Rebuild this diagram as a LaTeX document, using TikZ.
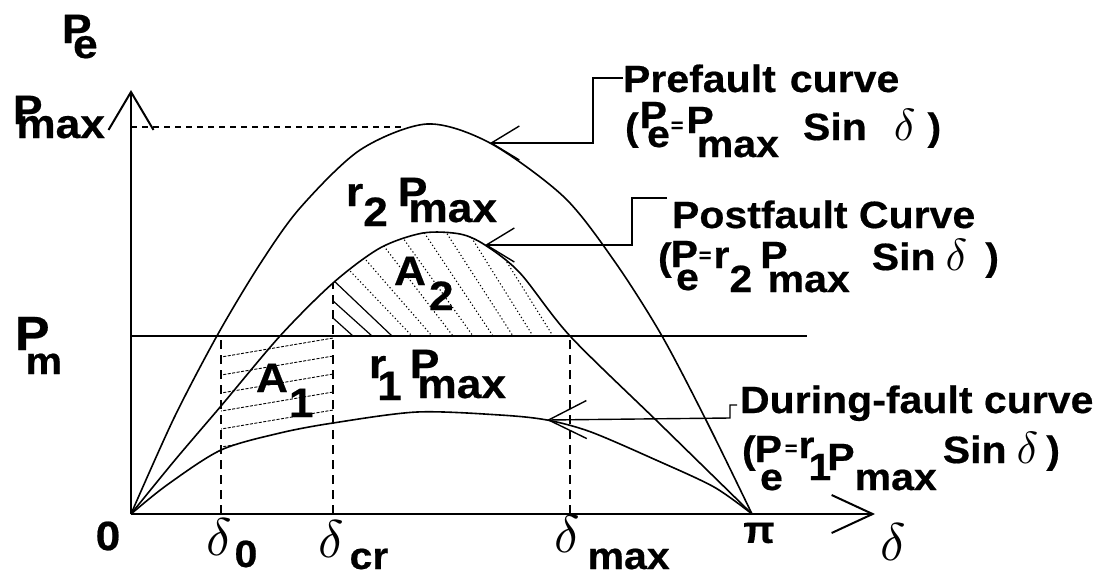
\documentclass[tikz,border=0pt]{standalone}
\usepackage{fontspec}
\setmainfont{Liberation Sans}[FakeStretch=1.08, BoldFeatures={FakeBold=0.5}]
\usetikzlibrary{arrows.meta}
\newcommand{\lo}[2]{\raisebox{-#1}{#2}}
\newcommand{\up}[2]{\raisebox{#1}{#2}}
\newcommand{\Psb}[3]{P\kern#1\raisebox{-#2}{#3}}
\newcommand{\dl}[1][5.3]{\scalebox{#1}{\fontsize{10}{12}\selectfont$\delta$}}
\newcommand{\eqs}{\raisebox{8pt}{\fontsize{20}{20}\selectfont =}}
\begin{document}
\begin{tikzpicture}[x=1pt,y=-1pt,
  every node/.style={inner sep=0pt, outer sep=0pt, font=\bfseries\fontsize{38}{40}\selectfont},
  small/.style={font=\bfseries\fontsize{38}{40}\selectfont},
  big/.style={font=\bfseries\fontsize{41}{44}\selectfont},
  axis/.style={line width=2pt},
  curve/.style={line width=1.6pt, line join=round},
  guide/.style={line width=1.8pt, dash pattern=on 9pt off 6pt},
  pmaxline/.style={line width=1.2pt, dash pattern=on 6pt off 5pt},
  leader/.style={line width=1.4pt},
  hatchA/.style={line width=0.9pt, dash pattern=on 3pt off 1.5pt},
  hatchS/.style={line width=1.2pt},
  hatchD/.style={line width=1.1pt, dash pattern=on 1.2pt off 2.4pt},
  barb/.style={-{Straight Barb[length=28pt,width=34pt]}},
]
\useasboundingbox (0,0) rectangle (1110,576);

% axes
\coordinate (O) at (131,514);
\coordinate (Ytop) at (131,90);
\coordinate (Xend) at (875,514);
\draw[axis, -{Straight Barb[length=38pt,width=45pt]}] (O) -- (Ytop);
\draw[axis, -{Straight Barb[length=41pt,width=38pt]}] (O) -- (Xend);

% Pm line and Pmax dashed line
\coordinate (PmL) at (131,336);
\coordinate (PmR) at (807,336);
\draw[curve] (PmL) -- (PmR);
\coordinate (PxL) at (131,127);
\coordinate (PxR) at (405,127);
\draw[pmaxline] (PxL) -- (PxR);

% hatching A1
\begin{scope}
  \clip (221,336) rectangle (333,514);
  \clip plot[smooth] coordinates {(131,514) (167,485) (221,450) (280,433) (333,423) (417,412) (500,415) (547,420) (591,432) (656,460) (714,487) (752,514)} -- (752,0) -- (131,0) -- cycle;
  \foreach \y in {357,375,393,411,429,447}
    \draw[hatchA] (210,\y+1.9) -- (345,\y-21);
\end{scope}

% hatching A2
\begin{scope}
  \clip (333,0) rectangle (572,336);
  \clip plot[smooth] coordinates {(131,514) (175,460) (221,406) (280,336) (333,283) (380,248) (423,233) (460,234) (485,245) (520,273) (570,336) (660,424) (752,514)} -- cycle;
  \foreach \b/\s in {353/0.9,372/0.9,392/0.95}
    \draw[hatchS] (\b-170/\s,166) -- (\b+10/\s,346);
  \foreach \b/\s in {412/1.05,432/1.15,453/1.3,473/1.4,493/1.5,513/1.55,533/1.6,553/1.6}
    \draw[hatchD] (\b-190/\s,146) -- (\b+10/\s,346);
\end{scope}

% guides
\coordinate (d0b) at (221,514); \coordinate (d0t) at (221,336);
\coordinate (dcb) at (333,514); \coordinate (dct) at (333,283);
\coordinate (dmb) at (570,514); \coordinate (dmt) at (570,336);
\draw[guide] (d0b) -- (d0t);
\draw[guide] (dcb) -- (dct);
\draw[guide] (dmb) -- (dmt);

% curves
\draw[curve] plot[smooth] coordinates {(131,514) (174,418) (218,334) (260,264) (300,208) (360,150) (427,124) (490,143) (564,197) (615,262) (662,336) (708,424) (752,514)};
\draw[curve] plot[smooth] coordinates {(131,514) (175,460) (221,406) (280,336) (333,283) (380,248) (423,233) (460,234) (485,245) (520,273) (570,336) (660,424) (752,514)};
\draw[curve] plot[smooth] coordinates {(131,514) (167,485) (221,450) (280,433) (333,423) (417,412) (500,415) (547,420) (591,432) (656,460) (714,487) (752,514)};

% callout texts
\node[anchor=base west] (pre1) at (623,92) {Prefault\hspace{14pt}curve};
\node[anchor=base west, small] (pre2) at (625,140) {(\kern1pt\up{12pt}{P}\kern-20pt\lo{7pt}{e}\kern1pt\eqs\kern3pt\up{7pt}{P}\kern-17pt\lo{17pt}{max}\kern24pt Sin\kern27pt\dl[4.5]\kern12pt)};
\node[anchor=base west] (post1) at (672,228) {Postfault Curve};
\node[anchor=base west, small] (post2) at (658,270) {(\kern-1pt\up{3pt}{P}\kern-22pt\lo{20pt}{e}\eqs\kern2pt\up{2pt}{r}\lo{22pt}{2}\kern8pt\up{2pt}{P}\kern-20pt\lo{22pt}{max}\kern22pt Sin\kern10pt\dl[4.5]\kern18pt)};
\node[anchor=base west] (dur1) at (740,413) {During-fault curve};
\node[anchor=base west, small] (dur2) at (742,463) {(\kern-1pt\up{1pt}{P}\kern-22pt\lo{27pt}{e}\kern2pt\eqs\kern1pt\up{5pt}{r}\kern-6pt\lo{17pt}{1}\kern-4pt\lo{7pt}{P}\lo{27pt}{max}\kern6pt Sin\kern10pt\dl[4.5]\kern8pt)};

% leaders
\coordinate (tip1) at (490,143);
\coordinate (k1) at (593,78);
\coordinate (c1) at (593,143);
\draw[leader, barb] (pre1.west |- k1) -- (k1) -- (c1) -- (tip1);
\coordinate (tip2) at (485,245);
\coordinate (k2) at (632,198);
\coordinate (c2) at (632,245);
\draw[leader, barb] ([xshift=-5pt]post1.west |- k2) -- (k2) -- (c2) -- (tip2);
\coordinate (tip3) at (547,420);
\coordinate (k3) at (730,405);
\coordinate (c3) at (730,418);
\draw[leader, -{Straight Barb[length=38pt,width=38pt]}] ([xshift=-3pt]dur1.west |- k3) -- (k3) -- (c3) -- (tip3);

% axis labels
\node[anchor=base west, big] (lPe) at (62,43) {\Psb{-0.45em}{15pt}{e}};
\node[anchor=base west, big] (lPmax) at (13,124) {\Psb{-0.64em}{14pt}{max}};
\node[anchor=base west] (lPm) at (15,350) {{\fontsize{48}{48}\selectfont P}\kern-24pt\lo{24pt}{m}};
\node[big] (l0) at (108,536) {0};
\node[anchor=base west] (ld0) at (206,555) {\dl\kern3pt\lo{12pt}{0}};
\node[anchor=base west] (ldcr) at (318,557) {\dl\kern6pt\lo{12pt}{cr}};
\node[anchor=base west] (ldmax) at (554,552) {\dl\kern8pt\lo{17pt}{max}};
\node (lpi) at (759,533) {π};
\node[anchor=base west] (ldel) at (880,560) {\dl};

% region labels
\node[anchor=base west, big] (lr2) at (346,206) {r\lo{20pt}{2}\hspace{10pt}\Psb{-19pt}{16pt}{max}};
\node[anchor=base west, big] (lA2) at (394,285) {A\kern3pt\lo{25pt}{2}};
\node[anchor=base west, big] (lA1) at (256,392) {A\kern1pt\lo{25pt}{1}};
\node[anchor=base west, big] (lr1) at (369,378) {r\kern-9pt\lo{22pt}{1}\hspace{8pt}\Psb{-22pt}{20pt}{max}};
\end{tikzpicture}
\end{document}
